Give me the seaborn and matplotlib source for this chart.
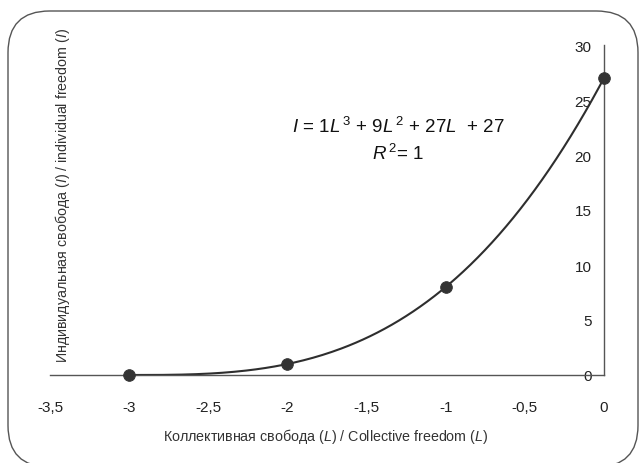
import numpy as np
import pandas as pd
import matplotlib
matplotlib.use("Agg")
import matplotlib.pyplot as plt
import seaborn as sns
from matplotlib.patches import FancyBboxPatch

# data
L_values = [-3, -2, -1, 0]
I_values = [0, 1, 8, 27]
x_ticks = [-3.5, -3, -2.5, -2, -1.5, -1, -0.5, 0]
x_tick_labels = ["-3,5", "-3", "-2,5", "-2", "-1,5", "-1", "-0,5", "0"]
y_ticks = [0, 5, 10, 15, 20, 25, 30]

sns.set_theme(style="white")
plt.rcParams['font.family'] = ['Liberation Sans', 'DejaVu Sans']
plt.rcParams['mathtext.fontset'] = 'custom'
plt.rcParams['mathtext.rm'] = 'Liberation Sans'
plt.rcParams['mathtext.it'] = 'Liberation Sans:italic'

df = pd.DataFrame({"L": L_values, "I": I_values})

fig = plt.figure(figsize=(6.4, 4.64), dpi=100)
border = FancyBboxPatch((8/640, -4/464), 630/640, 456/464,
                        boxstyle="round,pad=0,rounding_size=0.065",
                        transform=fig.transFigure, fill=False,
                        edgecolor="#555555", linewidth=1.0, mutation_aspect=640/464)
fig.patches.append(border)

ax = fig.add_axes([50/640, (464-376)/464, 554/640, 330/464])
ax.set_facecolor("none")

# trendline (cubic fit)
coef = np.polyfit(df["L"], df["I"], 3)
xs = np.linspace(-3, 0, 200)
fit = pd.DataFrame({"L": xs, "I": np.polyval(coef, xs)})
sns.lineplot(data=fit, x="L", y="I", ax=ax, color="#2e2e2e", linewidth=1.5, clip_on=False)
sns.scatterplot(data=df, x="L", y="I", ax=ax, color="#333333", s=70, edgecolor="#333333",
                zorder=5, clip_on=False)

ax.set_xlim(-3.5, 0)
ax.set_ylim(0, 30)
ax.set_xticks(x_ticks)
ax.set_xticklabels(x_tick_labels)
ax.set_yticks(y_ticks)
ax.spines['top'].set_visible(False)
ax.spines['right'].set_visible(False)
ax.spines['left'].set_position(('data', 0))
for s in ['left', 'bottom']:
    ax.spines[s].set_color("#555555")
    ax.spines[s].set_linewidth(1.0)
ax.tick_params(axis='x', length=0, pad=18, labelsize=11, colors="#222222")
ax.tick_params(axis='y', length=0, pad=9, labelsize=11, colors="#222222")
ax.set_xlabel("")
ax.set_ylabel("")

fig.text(326/640, 1 - 437/464, r"Коллективная свобода ($\mathit{L}$) / Collective freedom ($\mathit{L}$)",
         ha="center", va="center", fontsize=10.3, color="#333333")
fig.text(63/640, 1 - 196/464, r"Индивидуальная свобода ($\mathit{I}$) / individual freedom ($\mathit{I}$)",
         ha="center", va="center", fontsize=10.3, color="#333333", rotation=90)

ax.text(-1.30, 22.6, r"$\mathit{I}$ = 1$\mathit{L}^{\,3}$ + 9$\mathit{L}^{\,2}$ + 27$\mathit{L}$  + 27",
        ha="center", va="center", fontsize=13.5, color="#111111")
ax.text(-1.30, 20.2, r"$\mathit{R}^{\,2}$= 1", ha="center", va="center", fontsize=13.5, color="#111111")

fig.savefig("out.png", dpi=100)
